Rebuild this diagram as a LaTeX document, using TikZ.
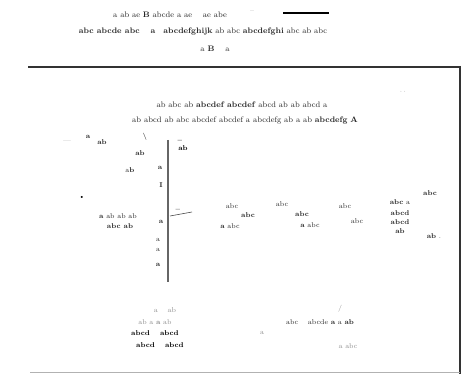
\documentclass[tikz,border=0pt]{standalone}
\usepackage{amsmath}
\usepackage{amssymb}
\usetikzlibrary{positioning}
\tikzset{
  lbl/.style={font=\scriptsize, inner sep=0.5pt, text=black!85},
  big lbl/.style={font=\footnotesize, inner sep=0.5pt, text=black!85},
  faint/.style={font=\scriptsize, inner sep=0.5pt, text=black!45},
  bold lbl/.style={font=\scriptsize\bfseries, inner sep=0.5pt},
  axis/.style={draw=black!60, line width=1.2pt},
  level/.style={draw=black!70, line width=0.6pt},
}
\begin{document}
\begin{tikzpicture}[x=1pt, y=-1pt]
\useasboundingbox (0,0) rectangle (465,374);
% heading
\node[big lbl]  (t1) at (170,15) {a ab ae \textbf{B} abcde a ae \quad ae abe};
\node[faint] (t1a) at (252,12) {--};
\node[bold lbl] (t1b) at (306,13) {\rule{46pt}{1.8pt}};
\node[big lbl]  (t2) at (203,32) {\textbf{abc abcde abc} \quad \textbf{a}\quad \textbf{abcdefghijk} ab abc \textbf{abcdefghi} abc ab abc};
\node[big lbl]  (t3) at (215,49) {a \textbf{B} \quad a};
% frame
\draw[line width=1.8pt, black!80] (28,67) -- (460,67);
\draw[line width=1.8pt, black!80] (460,66) -- (460,374);
\draw[line width=0.6pt, black!30] (30,372) -- (460,372);
% caption inside frame
\node[big lbl] (c1) at (242,105) {ab abc ab \textbf{abcdef abcdef} abcd ab ab abcd a};
\node[big lbl] (c2) at (245,121) {ab abcd ab abc abcdef abcdef a abcdefg ab a ab \textbf{abcdefg} \textbf{A}};
\node[faint] (mk) at (403,92) {$\cdot\,\cdot$};
% vertical axis
\coordinate (ax0) at (168,140);
\coordinate (ax1) at (168,282);
\draw[axis] (ax0) -- (ax1);
% labels on the axis
\node[faint] (l1) at (67,142) {---};
\node[lbl]   (l2) at (88,137) {\textbf{a}};
\node[lbl]   (l3) at (102,142) {\textbf{ab}};
\node[lbl]   (l4) at (145,137) {\textbf{\textbackslash}};
\node[bold lbl] (l5) at (180,141) {--};
\node[bold lbl] (l6) at (183,148) {ab};
\node[lbl]   (l7) at (140,153) {\textbf{ab}};
\node[lbl]   (l8) at (130,170) {a\textbf{b}};
\node[lbl]   (l9) at (160,168) {\textbf{a}};
\node[lbl]   (l10) at (161,185) {\textbf{I}};
\node[bold lbl] (l11) at (82,197) {\Large\textbf{.}};
\node[lbl]   (l12) at (178,210) {\textbf{--}};
\node[lbl]   (l13) at (118,216) {\textbf{a} ab ab ab};
\node[lbl]   (l14) at (120,226) {\textbf{abc ab}};
\node[lbl]   (l15) at (161,222) {\textbf{a}};
\node[lbl]   (l16) at (158,240) {a};
\node[lbl]   (l17) at (158,250) {a};
\node[lbl]   (l18) at (158,265) {\textbf{a}};
% levels to the right
\coordinate (v1) at (170,216);
\draw[level] (v1) -- ++(22,-4);
\node[lbl] (r1) at (232,206) {abc};
\node[lbl] (r2) at (248,215) {\textbf{abc}};
\node[lbl] (r3) at (230,226) {\textbf{a} abc};
\node[lbl] (r4) at (282,204) {abc};
\node[lbl] (r5) at (302,214) {\textbf{abc}};
\node[lbl] (r6) at (310,225) {\textbf{a} abc};
\node[lbl] (r7) at (345,206) {abc};
\node[lbl] (r8) at (357,221) {abc};
\node[lbl] (r9) at (400,202) {\textbf{abc} a};
\node[lbl] (r10) at (400,213) {\textbf{abcd}};
\node[lbl] (r11) at (400,222) {\textbf{abcd}};
\node[lbl] (r12) at (400,231) {\textbf{ab}};
\node[lbl] (r13) at (430,193) {\textbf{abc}};
\node[lbl] (r14) at (434,236) {\textbf{ab} .};
% lower left legend
\node[faint] (g1) at (165,310) {a \quad ab};
\node[faint] (g2) at (155,322) {ab a \textbf{a} ab};
\node[bold lbl] (g3) at (155,333) {abcd \quad abcd};
\node[bold lbl] (g4) at (160,345) {abcd \quad abcd};
% lower right legend
\node[lbl]   (h1) at (320,322) {abc \quad abcde \textbf{a} a \textbf{ab}};
\node[faint] (h2) at (262,333) {a};
\node[faint] (h3) at (348,346) {a abc};
\node[faint] (h4) at (340,309) {/};
\end{tikzpicture}
\end{document}
